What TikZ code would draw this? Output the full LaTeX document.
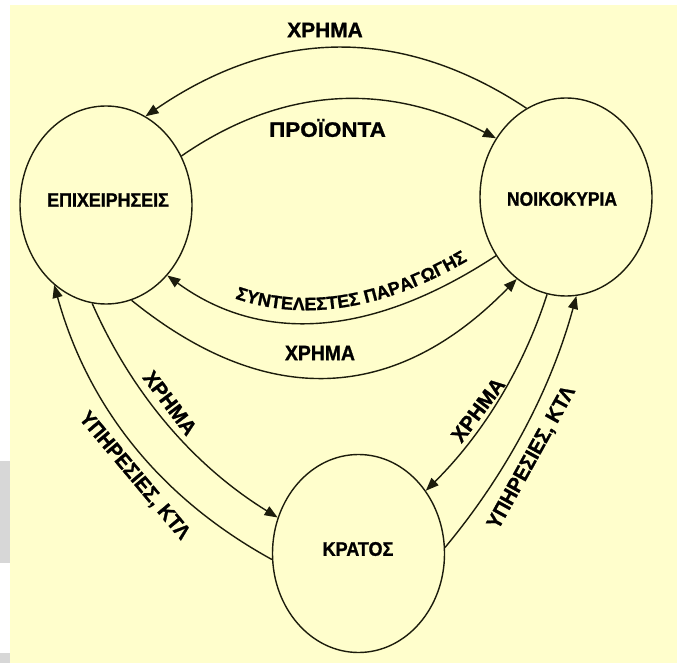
\documentclass[tikz,border=0pt]{standalone}
\usepackage{fontspec}
\usepackage{graphicx}
\newfontfamily\gfont{Liberation Sans}[FakeBold=1.2]
\usetikzlibrary{arrows.meta,shapes.geometric,decorations.text}
\definecolor{bgy}{RGB}{255,254,204}
\definecolor{ink}{RGB}{28,28,12}
\definecolor{strip}{RGB}{215,215,215}
\begin{document}
\begin{tikzpicture}[x=1pt,y=-1pt,
  circ/.style={draw=ink, line width=1.4pt, ellipse, minimum width=172pt, minimum height=198pt, inner sep=0pt},
  clbl/.style={font=\gfont\bfseries\fontsize{17.5}{19}\selectfont, inner sep=0pt, text=black},
  lbl/.style={font=\gfont\bfseries\fontsize{19}{20}\selectfont, inner sep=0pt, text=black},
  flow/.style={draw=ink, line width=1.4pt, -{Triangle[length=13pt,width=10pt]}},
]
\useasboundingbox (0,0) rectangle (677,663);
\fill[white] (0,0) rectangle (677,663);
\fill[bgy] (10,5) rectangle (677,663);
\fill[strip] (0,461) rectangle (10,563);
\fill[strip] (0,653) rectangle (10,663);

% states
\node[circ] (L) at (106,205) {};
\node[circ] (N) at (566,197) {};
\node[circ] (K) at (358.5,553.5) {};
\node[clbl] (Lt) at (108,200) {\scalebox{1.02}[1.12]{ΕΠΙΧΕΙΡΗΣΕΙΣ}};
\node[clbl] (Nt) at (562,199) {\scalebox{1}[1.12]{ΝΟΙΚΟΚΥΡΙΑ}};
\node[clbl] (Kt) at (358,549) {\scalebox{1.03}[1.12]{ΚΡΑΤΟΣ}};

% flows
\draw[flow] (N.114) .. controls (401,25) and (274,28) .. (L.66);
\draw[flow] (L.33) .. controls (281,87) and (386,81) .. (N.140);
\draw[flow] (N.220) .. controls (371,338) and (261,344) .. (L.311.5);
\draw[flow] (L.285) .. controls (267,410) and (396,403) .. (N.239.3);
\draw[flow] (K.184) .. controls (160,498) and (88,407) .. (L.237);
\draw[flow] (L.262.4) .. controls (132,394) and (194,466) .. (K.156.4);
\draw[flow] (N.259.4) .. controls (523,369.5) and (482,435) .. (K.43.7);
\draw[flow] (K.4.3) .. controls (507,473) and (551,389) .. (N.276.5);

% labels
\node[lbl] (x1) at (325,30) {\scalebox{1.1}[1.1]{ΧΡΗΜΑ}};
\node[lbl] (p1) at (327.5,128) {\scalebox{1.18}[1.1]{ΠΡΟΪΟΝΤΑ}};
\node[lbl] (x2) at (320,353) {\scalebox{1.02}[1.1]{ΧΡΗΜΑ}};
\node[lbl, rotate=-53] (x3) at (170,403) {\scalebox{1.08}[1.1]{ΧΡΗΜΑ}};
\node[lbl, rotate=53] (x4) at (478,410) {\scalebox{1.08}[1.1]{ΧΡΗΜΑ}};
\node[lbl, rotate=-50] (u1) at (134,476) {\scalebox{1.04}[1.1]{ΥΠΗΡΕΣΙΕΣ, ΚΤΛ}};
\node[lbl, rotate=61] (u2) at (532,458) {\scalebox{1.04}[1.1]{ΥΠΗΡΕΣΙΕΣ, ΚΤΛ}};
\path[decorate, decoration={text along path, text align={center, left indent=44pt},
  text={|\gfont\bfseries\fontsize{18}{18}\selectfont|ΣΥΝΤΕΛΕΣΤΕΣ ΠΑΡΑΓΩΓΗΣ}}]
  (167,262) .. controls (261,332) and (371,326) .. (496,243);
\end{tikzpicture}
\end{document}
